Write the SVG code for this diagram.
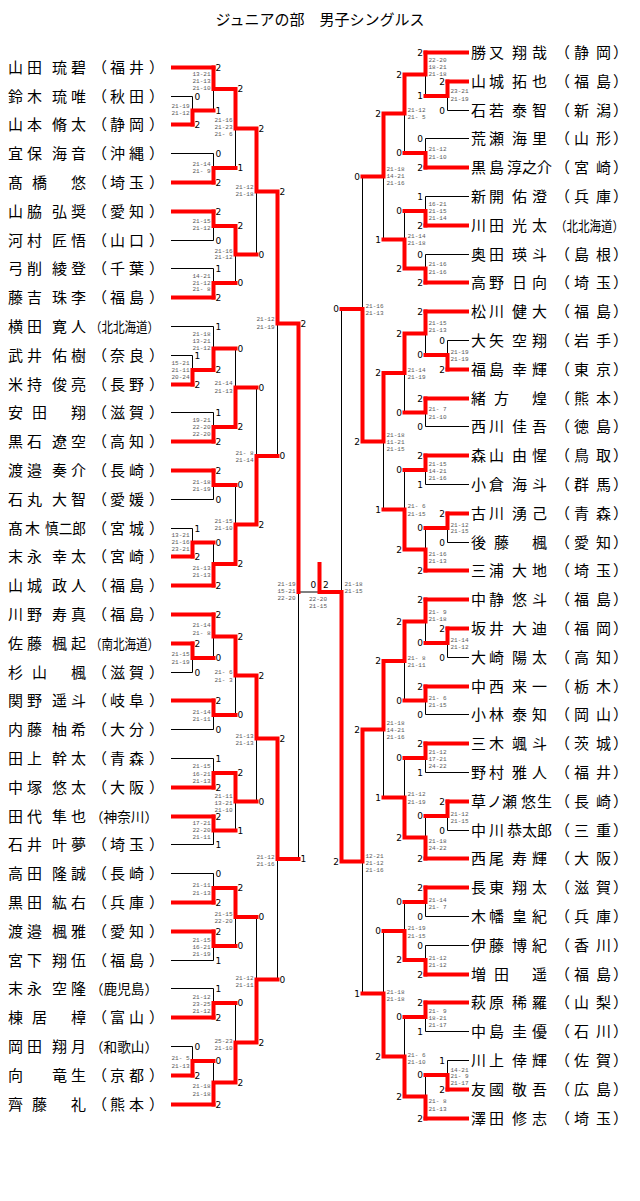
<svg xmlns="http://www.w3.org/2000/svg" width="640" height="1201" viewBox="0 0 640 1201">
<style>
.nm text{font-family:"Noto Sans CJK JP","Noto Sans CJK SC",sans-serif;font-size:15px;fill:#000}
.nm text.cp{font-size:13.5px}
.tt{font-family:"Noto Sans CJK JP","Noto Sans CJK SC",sans-serif;font-size:15px;fill:#000}
.b{stroke:#000;stroke-width:1;fill:none}
.r{stroke:#f00;stroke-width:4;fill:none;stroke-linecap:square}
.dl text,.dr text{font-family:"DejaVu Sans",sans-serif;font-size:9px;fill:#000}
.dr text{text-anchor:end}
.gl text,.gr text,.gc text{font-family:"Liberation Mono",monospace;font-size:6px;fill:#5a5a5a}
.gl text{text-anchor:end}
.gc text{text-anchor:middle}
</style>
<rect width="640" height="1201" fill="#fff"/>
<text class="tt" x="320" y="25" text-anchor="middle">ジュニアの部　男子シングルス</text>

<g id="connectors">
<path class="b" d="M171,96.5H192.5M171,153.5H213.5M171,240.5H213.5M171,268.5H213.5M171,326.5H213.5M171,355.5H192.5M171,412.5H213.5M171,499.5H213.5M171,528.5H192.5M171,672.5H192.5M171,729.5H213.5M171,758.5H213.5M171,844.5H213.5M171,873.5H213.5M171,960.5H213.5M171,988.5H213.5M171,1046.5H192.5"/>
<path class="b" d="M192.5,96.5V124.5M213.5,67.5V110.5M213.5,153.5V182.5M235.5,89V168M213.5,211.5V240.5M213.5,268.5V297.5M235.5,226V283M256.5,128.5V254.5M192.5,355.5V384.5M213.5,326.5V370M213.5,412.5V441.5M235.5,348.5V427M213.5,470.5V499.5M192.5,528.5V556.5M213.5,542.5V585.5M235.5,485V564M256.5,387.5V524.5M277.5,191.5V456M192.5,643.5V672.5M213.5,614.5V658M213.5,700.5V729.5M235.5,636.5V715M213.5,758.5V787.5M213.5,816.5V844.5M235.5,773V830.5M256.5,675.5V801.5M213.5,873.5V902.5M213.5,931.5V960.5M235.5,888V946M213.5,988.5V1017.5M192.5,1046.5V1075.5M213.5,1061V1104.5M235.5,1003V1082.5M256.5,917V1042.5M277.5,738.5V979.5M298.5,323.5V859M298.5,592H319.5"/>
<path class="b" d="M469,110.5H447.5M469,138.5H425.5M469,196.5H425.5M469,254.5H425.5M469,340.5H447.5M469,426.5H425.5M469,484.5H425.5M469,542.5H447.5M469,657.5H447.5M469,714.5H425.5M469,772.5H425.5M469,830.5H447.5M469,916.5H425.5M469,945.5H425.5M469,1031.5H425.5M469,1060.5H447.5"/>
<path class="b" d="M447.5,81.5V110.5M425.5,52.5V96M425.5,138.5V167.5M404.5,74.5V153M425.5,196.5V225.5M425.5,254.5V282.5M404.5,211V268.5M383.5,113.5V239.5M447.5,340.5V369.5M425.5,311.5V355M425.5,398.5V426.5M404.5,333.5V412.5M425.5,455.5V484.5M447.5,513.5V542.5M425.5,528V570.5M404.5,470V549.5M383.5,373V509.5M362.5,176.5V441.5M447.5,628.5V657.5M425.5,599.5V643M425.5,686.5V714.5M404.5,621.5V700.5M425.5,743.5V772.5M447.5,801.5V830.5M425.5,816V858.5M404.5,758V837.5M383.5,661V797.5M425.5,887.5V916.5M425.5,945.5V974.5M404.5,902V960M425.5,1002.5V1031.5M447.5,1060.5V1089.5M425.5,1075V1118.5M404.5,1017V1096.5M383.5,931V1056.5M362.5,729.5V993.5M341.5,309V861.5"/>
<path class="r" d="M173,67.5H213.5M173,124.5H192.5M173,182.5H213.5M173,211.5H213.5M173,297.5H213.5M173,384.5H192.5M173,441.5H213.5M173,470.5H213.5M173,556.5H192.5M173,585.5H213.5M173,614.5H213.5M173,643.5H192.5M173,700.5H213.5M173,787.5H213.5M173,816.5H213.5M173,902.5H213.5M173,931.5H213.5M173,1017.5H213.5M173,1075.5H192.5M173,1104.5H213.5"/>
<path class="r" d="M192.5,124.5V110.5H213.5M213.5,67.5V89H235.5M213.5,182.5V168H235.5M235.5,89V128.5H256.5M213.5,211.5V226H235.5M213.5,297.5V283H235.5M235.5,226V254.5H256.5M256.5,128.5V191.5H277.5M192.5,384.5V370H213.5M213.5,370V348.5H235.5M213.5,441.5V427H235.5M235.5,427V387.5H256.5M213.5,470.5V485H235.5M192.5,556.5V542.5H213.5M213.5,585.5V564H235.5M235.5,564V524.5H256.5M256.5,524.5V456H277.5M277.5,191.5V323.5H298.5M192.5,643.5V658H213.5M213.5,614.5V636.5H235.5M213.5,700.5V715H235.5M235.5,636.5V675.5H256.5M213.5,787.5V773H235.5M213.5,816.5V830.5H235.5M235.5,773V801.5H256.5M256.5,675.5V738.5H277.5M213.5,902.5V888H235.5M213.5,931.5V946H235.5M235.5,888V917H256.5M213.5,1017.5V1003H235.5M192.5,1075.5V1061H213.5M213.5,1104.5V1082.5H235.5M235.5,1082.5V1042.5H256.5M256.5,1042.5V979.5H277.5M277.5,738.5V859H298.5M298.5,323.5V592"/>
<path class="r" d="M467,52.5H425.5M467,81.5H447.5M467,167.5H425.5M467,225.5H425.5M467,282.5H425.5M467,311.5H425.5M467,369.5H447.5M467,398.5H425.5M467,455.5H425.5M467,513.5H447.5M467,570.5H425.5M467,599.5H425.5M467,628.5H447.5M467,686.5H425.5M467,743.5H425.5M467,801.5H447.5M467,858.5H425.5M467,887.5H425.5M467,974.5H425.5M467,1002.5H425.5M467,1089.5H447.5M467,1118.5H425.5"/>
<path class="r" d="M447.5,81.5V96H425.5M425.5,52.5V74.5H404.5M425.5,167.5V153H404.5M404.5,74.5V113.5H383.5M425.5,225.5V211H404.5M425.5,282.5V268.5H404.5M404.5,268.5V239.5H383.5M383.5,113.5V176.5H362.5M447.5,369.5V355H425.5M425.5,311.5V333.5H404.5M425.5,398.5V412.5H404.5M404.5,333.5V373H383.5M425.5,455.5V470H404.5M447.5,513.5V528H425.5M425.5,570.5V549.5H404.5M404.5,549.5V509.5H383.5M383.5,373V441.5H362.5M362.5,441.5V309H341.5M447.5,628.5V643H425.5M425.5,599.5V621.5H404.5M425.5,686.5V700.5H404.5M404.5,621.5V661H383.5M425.5,743.5V758H404.5M447.5,801.5V816H425.5M425.5,858.5V837.5H404.5M404.5,837.5V797.5H383.5M383.5,661V729.5H362.5M425.5,887.5V902H404.5M425.5,974.5V960H404.5M404.5,960V931H383.5M425.5,1002.5V1017H404.5M447.5,1089.5V1075H425.5M425.5,1118.5V1096.5H404.5M404.5,1096.5V1056.5H383.5M383.5,1056.5V993.5H362.5M362.5,729.5V861.5H341.5M341.5,861.5V592H319.5M319.5,592V564"/>
</g>

<g id="match-scores-left" class="dl">
<text x="194.5" y="99.8">0</text><text x="194.5" y="127.8">2</text>
<text x="215.5" y="70.8">2</text><text x="215.5" y="113.8">1</text>
<text x="215.5" y="156.8">0</text><text x="215.5" y="185.8">2</text>
<text x="237.5" y="92.3">2</text><text x="237.5" y="171.3">1</text>
<text x="215.5" y="214.8">2</text><text x="215.5" y="243.8">0</text>
<text x="215.5" y="271.8">1</text><text x="215.5" y="300.8">2</text>
<text x="237.5" y="229.3">2</text><text x="237.5" y="286.3">0</text>
<text x="258.5" y="131.8">2</text><text x="258.5" y="257.8">0</text>
<text x="194.5" y="358.8">1</text><text x="194.5" y="387.8">2</text>
<text x="215.5" y="329.8">1</text><text x="215.5" y="373.3">2</text>
<text x="215.5" y="415.8">1</text><text x="215.5" y="444.8">2</text>
<text x="237.5" y="351.8">0</text><text x="237.5" y="430.3">2</text>
<text x="215.5" y="473.8">2</text><text x="215.5" y="502.8">0</text>
<text x="194.5" y="531.8">1</text><text x="194.5" y="559.8">2</text>
<text x="215.5" y="545.8">0</text><text x="215.5" y="588.8">2</text>
<text x="237.5" y="488.3">0</text><text x="237.5" y="567.3">2</text>
<text x="258.5" y="390.8">0</text><text x="258.5" y="527.8">2</text>
<text x="279.5" y="194.8">2</text><text x="279.5" y="459.3">0</text>
<text x="194.5" y="646.8">2</text><text x="194.5" y="675.8">0</text>
<text x="215.5" y="617.8">2</text><text x="215.5" y="661.3">0</text>
<text x="215.5" y="703.8">2</text><text x="215.5" y="732.8">0</text>
<text x="237.5" y="639.8">2</text><text x="237.5" y="718.3">0</text>
<text x="215.5" y="761.8">1</text><text x="215.5" y="790.8">2</text>
<text x="215.5" y="819.8">2</text><text x="215.5" y="847.8">1</text>
<text x="237.5" y="776.3">2</text><text x="237.5" y="833.8">1</text>
<text x="258.5" y="678.8">2</text><text x="258.5" y="804.8">0</text>
<text x="215.5" y="876.8">0</text><text x="215.5" y="905.8">2</text>
<text x="215.5" y="934.8">2</text><text x="215.5" y="963.8">1</text>
<text x="237.5" y="891.3">2</text><text x="237.5" y="949.3">0</text>
<text x="215.5" y="991.8">1</text><text x="215.5" y="1020.8">2</text>
<text x="194.5" y="1049.8">0</text><text x="194.5" y="1078.8">2</text>
<text x="215.5" y="1064.3">0</text><text x="215.5" y="1107.8">2</text>
<text x="237.5" y="1006.3">0</text><text x="237.5" y="1085.8">2</text>
<text x="258.5" y="920.3">0</text><text x="258.5" y="1045.8">2</text>
<text x="279.5" y="741.8">2</text><text x="279.5" y="982.8">0</text>
<text x="300.5" y="326.8">2</text><text x="300.5" y="862.3">1</text>
<text x="310.5" y="588.3">0</text><text x="323" y="588.3">2</text>
</g>

<g id="match-scores-right" class="dr">
<text x="445" y="84.8">2</text><text x="445" y="113.8">0</text>
<text x="423" y="55.8">2</text><text x="423" y="99.3">1</text>
<text x="423" y="141.8">0</text><text x="423" y="170.8">2</text>
<text x="402" y="77.8">2</text><text x="402" y="156.3">0</text>
<text x="423" y="199.8">1</text><text x="423" y="228.8">2</text>
<text x="423" y="257.8">0</text><text x="423" y="285.8">2</text>
<text x="402" y="214.3">0</text><text x="402" y="271.8">2</text>
<text x="381" y="116.8">2</text><text x="381" y="242.8">1</text>
<text x="445" y="343.8">0</text><text x="445" y="372.8">2</text>
<text x="423" y="314.8">2</text><text x="423" y="358.3">0</text>
<text x="423" y="401.8">2</text><text x="423" y="429.8">0</text>
<text x="402" y="336.8">2</text><text x="402" y="415.8">0</text>
<text x="423" y="458.8">2</text><text x="423" y="487.8">1</text>
<text x="445" y="516.8">2</text><text x="445" y="545.8">0</text>
<text x="423" y="531.3">0</text><text x="423" y="573.8">2</text>
<text x="402" y="473.3">0</text><text x="402" y="552.8">2</text>
<text x="381" y="376.3">2</text><text x="381" y="512.8">1</text>
<text x="360" y="179.8">0</text><text x="360" y="444.8">2</text>
<text x="445" y="631.8">2</text><text x="445" y="660.8">0</text>
<text x="423" y="602.8">2</text><text x="423" y="646.3">0</text>
<text x="423" y="689.8">2</text><text x="423" y="717.8">0</text>
<text x="402" y="624.8">2</text><text x="402" y="703.8">0</text>
<text x="423" y="746.8">2</text><text x="423" y="775.8">1</text>
<text x="445" y="804.8">2</text><text x="445" y="833.8">0</text>
<text x="423" y="819.3">0</text><text x="423" y="861.8">2</text>
<text x="402" y="761.3">0</text><text x="402" y="840.8">2</text>
<text x="381" y="664.3">2</text><text x="381" y="800.8">1</text>
<text x="423" y="890.8">2</text><text x="423" y="919.8">0</text>
<text x="423" y="948.8">0</text><text x="423" y="977.8">2</text>
<text x="402" y="905.3">0</text><text x="402" y="963.3">2</text>
<text x="423" y="1005.8">2</text><text x="423" y="1034.8">1</text>
<text x="445" y="1063.8">1</text><text x="445" y="1092.8">2</text>
<text x="423" y="1078.3">0</text><text x="423" y="1121.8">2</text>
<text x="402" y="1020.3">0</text><text x="402" y="1099.8">2</text>
<text x="381" y="934.3">0</text><text x="381" y="1059.8">2</text>
<text x="360" y="732.8">2</text><text x="360" y="996.8">1</text>
<text x="339" y="312.3">0</text><text x="339" y="864.8">2</text>
</g>

<g id="game-scores-left" class="gl">
<text x="189.5" y="108">21-19<tspan x="189.5" y="115">21-12</tspan></text>
<text x="210.5" y="76">13-21<tspan x="210.5" y="83">21-13</tspan><tspan x="210.5" y="90">21-10</tspan></text>
<text x="210.5" y="166">21-14<tspan x="210.5" y="173">21- 9</tspan></text>
<text x="232.5" y="122">21-16<tspan x="232.5" y="129">21-23</tspan><tspan x="232.5" y="136">21- 6</tspan></text>
<text x="210.5" y="223">21-15<tspan x="210.5" y="230">21-12</tspan></text>
<text x="210.5" y="278">14-21<tspan x="210.5" y="284.5">21-12</tspan><tspan x="210.5" y="291">21- 8</tspan></text>
<text x="232.5" y="252.5">21-16<tspan x="232.5" y="259">21-12</tspan></text>
<text x="253.5" y="189">21-12<tspan x="253.5" y="196">21-18</tspan></text>
<text x="189.5" y="364.5">15-21<tspan x="189.5" y="371.5">21-11</tspan><tspan x="189.5" y="378.5">20-24</tspan></text>
<text x="210.5" y="335.5">21-18<tspan x="210.5" y="342.5">13-21</tspan><tspan x="210.5" y="349.5">21-12</tspan></text>
<text x="210.5" y="421.5">19-21<tspan x="210.5" y="428.5">22-20</tspan><tspan x="210.5" y="435.5">22-20</tspan></text>
<text x="232.5" y="385">21-14<tspan x="232.5" y="392.5">21-13</tspan></text>
<text x="210.5" y="483.5">21-18<tspan x="210.5" y="490.5">21-19</tspan></text>
<text x="189.5" y="537">13-21<tspan x="189.5" y="544">21-16</tspan><tspan x="189.5" y="551">23-21</tspan></text>
<text x="210.5" y="569.5">21-13<tspan x="210.5" y="576.5">21-13</tspan></text>
<text x="232.5" y="522.5">21-15<tspan x="232.5" y="530">21-10</tspan></text>
<text x="253.5" y="454.5">21- 8<tspan x="253.5" y="461.5">21-14</tspan></text>
<text x="274.5" y="321">21-12<tspan x="274.5" y="328.5">21-19</tspan></text>
<text x="189.5" y="656">21-15<tspan x="189.5" y="663.5">21-19</tspan></text>
<text x="210.5" y="627">21-14<tspan x="210.5" y="634.5">21- 8</tspan></text>
<text x="210.5" y="714">21-14<tspan x="210.5" y="721">21-11</tspan></text>
<text x="232.5" y="674">21- 6<tspan x="232.5" y="681.5">21- 3</tspan></text>
<text x="210.5" y="768">21-15<tspan x="210.5" y="775.5">16-21</tspan><tspan x="210.5" y="782.5">21-13</tspan></text>
<text x="210.5" y="825">17-21<tspan x="210.5" y="832">22-20</tspan><tspan x="210.5" y="839">21-11</tspan></text>
<text x="232.5" y="797.5">21-11<tspan x="232.5" y="804.5">13-21</tspan><tspan x="232.5" y="811.5">21-10</tspan></text>
<text x="253.5" y="737.5">21-13<tspan x="253.5" y="744.5">21-13</tspan></text>
<text x="210.5" y="887">21-11<tspan x="210.5" y="894.5">21-13</tspan></text>
<text x="210.5" y="941.5">21-15<tspan x="210.5" y="948.5">16-21</tspan><tspan x="210.5" y="955.5">21-19</tspan></text>
<text x="232.5" y="915.5">21-15<tspan x="232.5" y="923">22-20</tspan></text>
<text x="210.5" y="998.5">21-12<tspan x="210.5" y="1005.5">23-25</tspan><tspan x="210.5" y="1012.5">21-12</tspan></text>
<text x="189.5" y="1060">21- 5<tspan x="189.5" y="1067.5">21-13</tspan></text>
<text x="210.5" y="1088">21-18<tspan x="210.5" y="1095.5">21-18</tspan></text>
<text x="232.5" y="1042.5">25-23<tspan x="232.5" y="1050">21-10</tspan></text>
<text x="253.5" y="979.5">21-12<tspan x="253.5" y="987">21-11</tspan></text>
<text x="274.5" y="858.5">21-12<tspan x="274.5" y="866">21-16</tspan></text>
<text x="295.5" y="586">21-19<tspan x="295.5" y="593">15-21</tspan><tspan x="295.5" y="600">22-20</tspan></text>
</g>

<g id="game-scores-right" class="gr">
<text x="450.5" y="93">23-21<tspan x="450.5" y="100.5">21-19</tspan></text>
<text x="428.5" y="61.5">22-20<tspan x="428.5" y="68.5">18-21</tspan><tspan x="428.5" y="75.5">21-18</tspan></text>
<text x="428.5" y="151">21-12<tspan x="428.5" y="158.5">21-10</tspan></text>
<text x="407.5" y="111.5">21-12<tspan x="407.5" y="119">21- 5</tspan></text>
<text x="428.5" y="205.5">16-21<tspan x="428.5" y="212.5">21-15</tspan><tspan x="428.5" y="219.5">21-14</tspan></text>
<text x="428.5" y="266">21-16<tspan x="428.5" y="273.5">21-16</tspan></text>
<text x="407.5" y="238">21-14<tspan x="407.5" y="245">21-18</tspan></text>
<text x="386.5" y="171">21-18<tspan x="386.5" y="178">14-21</tspan><tspan x="386.5" y="185">21-16</tspan></text>
<text x="450.5" y="354">21-19<tspan x="450.5" y="360.5">21-19</tspan></text>
<text x="428.5" y="324.5">21-15<tspan x="428.5" y="331.5">21-13</tspan></text>
<text x="428.5" y="411">21- 7<tspan x="428.5" y="418.5">21-10</tspan></text>
<text x="407.5" y="371.5">21-14<tspan x="407.5" y="378.5">21-19</tspan></text>
<text x="428.5" y="465.5">21-15<tspan x="428.5" y="472.5">14-21</tspan><tspan x="428.5" y="479.5">21-16</tspan></text>
<text x="450.5" y="526.5">21-12<tspan x="450.5" y="533">21-15</tspan></text>
<text x="428.5" y="555.5">21-16<tspan x="428.5" y="562.5">21-13</tspan></text>
<text x="407.5" y="508">21- 6<tspan x="407.5" y="515.5">21-15</tspan></text>
<text x="386.5" y="436.5">21-18<tspan x="386.5" y="443.5">11-21</tspan><tspan x="386.5" y="450.5">21-15</tspan></text>
<text x="365.5" y="307.5">21-16<tspan x="365.5" y="314.5">21-13</tspan></text>
<text x="450.5" y="641.5">21-14<tspan x="450.5" y="649">21-12</tspan></text>
<text x="428.5" y="614">21- 9<tspan x="428.5" y="621">21-18</tspan></text>
<text x="428.5" y="699.5">21- 6<tspan x="428.5" y="706.5">21-15</tspan></text>
<text x="407.5" y="659.5">21- 8<tspan x="407.5" y="667">21-11</tspan></text>
<text x="428.5" y="754">21-12<tspan x="428.5" y="761">17-21</tspan><tspan x="428.5" y="767.5">24-22</tspan></text>
<text x="450.5" y="815.5">21-12<tspan x="450.5" y="822.5">21-15</tspan></text>
<text x="428.5" y="843">21-18<tspan x="428.5" y="850">24-22</tspan></text>
<text x="407.5" y="796">21-12<tspan x="407.5" y="803.5">21-19</tspan></text>
<text x="386.5" y="725">21-18<tspan x="386.5" y="732">14-21</tspan><tspan x="386.5" y="739">21-16</tspan></text>
<text x="428.5" y="901.5">21-14<tspan x="428.5" y="908.5">21- 7</tspan></text>
<text x="428.5" y="959.5">21-12<tspan x="428.5" y="966.5">21-12</tspan></text>
<text x="407.5" y="930">21-19<tspan x="407.5" y="937.5">21-15</tspan></text>
<text x="428.5" y="1013">21- 9<tspan x="428.5" y="1020">18-21</tspan><tspan x="428.5" y="1027">21-17</tspan></text>
<text x="450.5" y="1071.5">14-21<tspan x="450.5" y="1078">21- 9</tspan><tspan x="450.5" y="1085">21-17</tspan></text>
<text x="428.5" y="1103">21- 8<tspan x="428.5" y="1110.5">21-13</tspan></text>
<text x="407.5" y="1056.5">21- 6<tspan x="407.5" y="1064">21-10</tspan></text>
<text x="386.5" y="994">21-18<tspan x="386.5" y="1001">21-18</tspan></text>
<text x="365.5" y="857.5">12-21<tspan x="365.5" y="864.5">21-12</tspan><tspan x="365.5" y="871.5">21-16</tspan></text>
<text x="344.5" y="586">21-18<tspan x="344.5" y="593">21-15</tspan></text>
</g>
<g id="game-scores-final" class="gc">
<text x="318" y="600.5">22-20<tspan x="318" y="607.5">21-15</tspan></text>
</g>

<g id="players-left" class="nm">
<g id="L01"><text x="8 27 52 71" y="73">山田琉碧</text><text x="92 110 129 149" y="73">（福井）</text></g>
<g id="L02"><text x="8 27 52 71" y="102">鈴木琉唯</text><text x="92 110 129 149" y="102">（秋田）</text></g>
<g id="L03"><text x="8 27 52 71" y="130">山本脩太</text><text x="92 110 129 149" y="130">（静岡）</text></g>
<g id="L04"><text x="8 27 52 71" y="159">宜保海音</text><text x="92 110 129 149" y="159">（沖縄）</text></g>
<g id="L05"><text x="8 32 71" y="188">髙橋悠</text><text x="92 110 129 149" y="188">（埼玉）</text></g>
<g id="L06"><text x="8 27 52 71" y="217">山脇弘奨</text><text x="92 110 129 149" y="217">（愛知）</text></g>
<g id="L07"><text x="8 27 52 71" y="246">河村匠悟</text><text x="92 110 129 149" y="246">（山口）</text></g>
<g id="L08"><text x="8 27 52 71" y="274">弓削綾登</text><text x="92 110 129 149" y="274">（千葉）</text></g>
<g id="L09"><text x="8 27 52 71" y="303">藤吉珠李</text><text x="92 110 129 149" y="303">（福島）</text></g>
<g id="L10"><text x="8 27 52 71" y="332">横田寛人</text><text class="cp" x="90" y="332" textLength="69" lengthAdjust="spacingAndGlyphs">（北北海道）</text></g>
<g id="L11"><text x="8 27 52 71" y="361">武井佑樹</text><text x="92 110 129 149" y="361">（奈良）</text></g>
<g id="L12"><text x="8 27 52 71" y="390">米持俊亮</text><text x="92 110 129 149" y="390">（長野）</text></g>
<g id="L13"><text x="8 32 71" y="418">安田翔</text><text x="92 110 129 149" y="418">（滋賀）</text></g>
<g id="L14"><text x="8 27 52 71" y="447">黒石遼空</text><text x="92 110 129 149" y="447">（高知）</text></g>
<g id="L15"><text x="8 27 52 71" y="476">渡邉奏介</text><text x="92 110 129 149" y="476">（長崎）</text></g>
<g id="L16"><text x="8 27 52 71" y="505">石丸大智</text><text x="92 110 129 149" y="505">（愛媛）</text></g>
<g id="L17"><text x="8 25" y="534">髙木</text><text x="45" y="534" textLength="41" lengthAdjust="spacingAndGlyphs">慎二郎</text><text x="92 110 129 149" y="534">（宮城）</text></g>
<g id="L18"><text x="8 27 52 71" y="562">末永幸太</text><text x="92 110 129 149" y="562">（宮崎）</text></g>
<g id="L19"><text x="8 27 52 71" y="591">山城政人</text><text x="92 110 129 149" y="591">（福島）</text></g>
<g id="L20"><text x="8 27 52 71" y="620">川野寿真</text><text x="92 110 129 149" y="620">（福島）</text></g>
<g id="L21"><text x="8 27 52 71" y="649">佐藤楓起</text><text class="cp" x="90" y="649" textLength="69" lengthAdjust="spacingAndGlyphs">（南北海道）</text></g>
<g id="L22"><text x="8 32 71" y="678">杉山楓</text><text x="92 110 129 149" y="678">（滋賀）</text></g>
<g id="L23"><text x="8 27 52 71" y="706">関野遥斗</text><text x="92 110 129 149" y="706">（岐阜）</text></g>
<g id="L24"><text x="8 27 52 71" y="735">内藤柚希</text><text x="92 110 129 149" y="735">（大分）</text></g>
<g id="L25"><text x="8 27 52 71" y="764">田上幹太</text><text x="92 110 129 149" y="764">（青森）</text></g>
<g id="L26"><text x="8 27 52 71" y="793">中塚悠太</text><text x="92 110 129 149" y="793">（大阪）</text></g>
<g id="L27"><text x="8 27 52 71" y="822">田代隼也</text><text class="cp" x="90" y="822" textLength="68" lengthAdjust="spacingAndGlyphs">（神奈川）</text></g>
<g id="L28"><text x="8 27 52 71" y="850">石井叶夢</text><text x="92 110 129 149" y="850">（埼玉）</text></g>
<g id="L29"><text x="8 27 52 71" y="879">高田隆誠</text><text x="92 110 129 149" y="879">（長崎）</text></g>
<g id="L30"><text x="8 27 52 71" y="908">黒田紘右</text><text x="92 110 129 149" y="908">（兵庫）</text></g>
<g id="L31"><text x="8 27 52 71" y="937">渡邉楓雅</text><text x="92 110 129 149" y="937">（愛知）</text></g>
<g id="L32"><text x="8 27 52 71" y="966">宮下翔伍</text><text x="92 110 129 149" y="966">（福島）</text></g>
<g id="L33"><text x="8 27 52 71" y="994">末永空隆</text><text class="cp" x="90" y="994" textLength="68" lengthAdjust="spacingAndGlyphs">（鹿児島）</text></g>
<g id="L34"><text x="8 32 71" y="1023">棟居樟</text><text x="92 110 129 149" y="1023">（富山）</text></g>
<g id="L35"><text x="8 27 52 71" y="1052">岡田翔月</text><text class="cp" x="90" y="1052" textLength="68" lengthAdjust="spacingAndGlyphs">（和歌山）</text></g>
<g id="L36"><text x="8 52 71" y="1081">向竜生</text><text x="92 110 129 149" y="1081">（京都）</text></g>
<g id="L37"><text x="8 32 71" y="1110">齊藤礼</text><text x="92 110 129 149" y="1110">（熊本）</text></g>
</g>

<g id="players-right" class="nm">
<g id="R01"><text x="471 489 512 532" y="58">勝又翔哉</text><text x="555 574 596 613" y="58">（静岡）</text></g>
<g id="R02"><text x="471 489 512 532" y="87">山城拓也</text><text x="555 574 596 613" y="87">（福島）</text></g>
<g id="R03"><text x="471 489 512 532" y="116">石若泰智</text><text x="555 574 596 613" y="116">（新潟）</text></g>
<g id="R04"><text x="471 489 512 532" y="144">荒瀬海里</text><text x="555 574 596 613" y="144">（山形）</text></g>
<g id="R05"><text x="471 489 507 522 537" y="173">黒島淳之介</text><text x="555 574 596 613" y="173">（宮崎）</text></g>
<g id="R06"><text x="471 489 512 532" y="202">新開佑澄</text><text x="555 574 596 613" y="202">（兵庫）</text></g>
<g id="R07"><text x="471 489 512 532" y="231">川田光太</text><text class="cp" x="555" y="231" textLength="69" lengthAdjust="spacingAndGlyphs">（北北海道）</text></g>
<g id="R08"><text x="471 489 512 532" y="260">奥田瑛斗</text><text x="555 574 596 613" y="260">（島根）</text></g>
<g id="R09"><text x="471 489 512 532" y="288">高野日向</text><text x="555 574 596 613" y="288">（埼玉）</text></g>
<g id="R10"><text x="471 489 512 532" y="317">松川健大</text><text x="555 574 596 613" y="317">（福島）</text></g>
<g id="R11"><text x="471 489 512 532" y="346">大矢空翔</text><text x="555 574 596 613" y="346">（岩手）</text></g>
<g id="R12"><text x="471 489 512 532" y="375">福島幸輝</text><text x="555 574 596 613" y="375">（東京）</text></g>
<g id="R13"><text x="471 494 532" y="404">緒方煌</text><text x="555 574 596 613" y="404">（熊本）</text></g>
<g id="R14"><text x="471 489 512 532" y="432">西川佳吾</text><text x="555 574 596 613" y="432">（徳島）</text></g>
<g id="R15"><text x="471 489 512 532" y="461">森山由惺</text><text x="555 574 596 613" y="461">（鳥取）</text></g>
<g id="R16"><text x="471 489 512 532" y="490">小倉海斗</text><text x="555 574 596 613" y="490">（群馬）</text></g>
<g id="R17"><text x="471 489 512 532" y="519">古川湧己</text><text x="555 574 596 613" y="519">（青森）</text></g>
<g id="R18"><text x="471 494 532" y="548">後藤楓</text><text x="555 574 596 613" y="548">（愛知）</text></g>
<g id="R19"><text x="471 489 512 532" y="576">三浦大地</text><text x="555 574 596 613" y="576">（埼玉）</text></g>
<g id="R20"><text x="471 489 512 532" y="605">中静悠斗</text><text x="555 574 596 613" y="605">（福島）</text></g>
<g id="R21"><text x="471 489 512 532" y="634">坂井大迪</text><text x="555 574 596 613" y="634">（福岡）</text></g>
<g id="R22"><text x="471 489 512 532" y="663">大崎陽太</text><text x="555 574 596 613" y="663">（高知）</text></g>
<g id="R23"><text x="471 489 512 532" y="692">中西来一</text><text x="555 574 596 613" y="692">（栃木）</text></g>
<g id="R24"><text x="471 489 512 532" y="720">小林泰知</text><text x="555 574 596 613" y="720">（岡山）</text></g>
<g id="R25"><text x="471 489 512 532" y="749">三木颯斗</text><text x="555 574 596 613" y="749">（茨城）</text></g>
<g id="R26"><text x="471 489 512 532" y="778">野村雅人</text><text x="555 574 596 613" y="778">（福井）</text></g>
<g id="R27"><text x="471 487 502 521 537" y="807">草ノ瀬悠生</text><text x="555 574 596 613" y="807">（長崎）</text></g>
<g id="R28"><text x="471 489 507 522 537" y="836">中川恭太郎</text><text x="555 574 596 613" y="836">（三重）</text></g>
<g id="R29"><text x="471 489 512 532" y="864">西尾寿輝</text><text x="555 574 596 613" y="864">（大阪）</text></g>
<g id="R30"><text x="471 489 512 532" y="893">長東翔太</text><text x="555 574 596 613" y="893">（滋賀）</text></g>
<g id="R31"><text x="471 489 512 532" y="922">木幡皇紀</text><text x="555 574 596 613" y="922">（兵庫）</text></g>
<g id="R32"><text x="471 489 512 532" y="951">伊藤博紀</text><text x="555 574 596 613" y="951">（香川）</text></g>
<g id="R33"><text x="471 494 532" y="980">増田遥</text><text x="555 574 596 613" y="980">（福島）</text></g>
<g id="R34"><text x="471 489 512 532" y="1008">萩原稀羅</text><text x="555 574 596 613" y="1008">（山梨）</text></g>
<g id="R35"><text x="471 489 512 532" y="1037">中島圭優</text><text x="555 574 596 613" y="1037">（石川）</text></g>
<g id="R36"><text x="471 489 512 532" y="1066">川上倖輝</text><text x="555 574 596 613" y="1066">（佐賀）</text></g>
<g id="R37"><text x="471 489 512 532" y="1095">友國敬吾</text><text x="555 574 596 613" y="1095">（広島）</text></g>
<g id="R38"><text x="471 489 512 532" y="1124">澤田修志</text><text x="555 574 596 613" y="1124">（埼玉）</text></g>
</g>
</svg>
